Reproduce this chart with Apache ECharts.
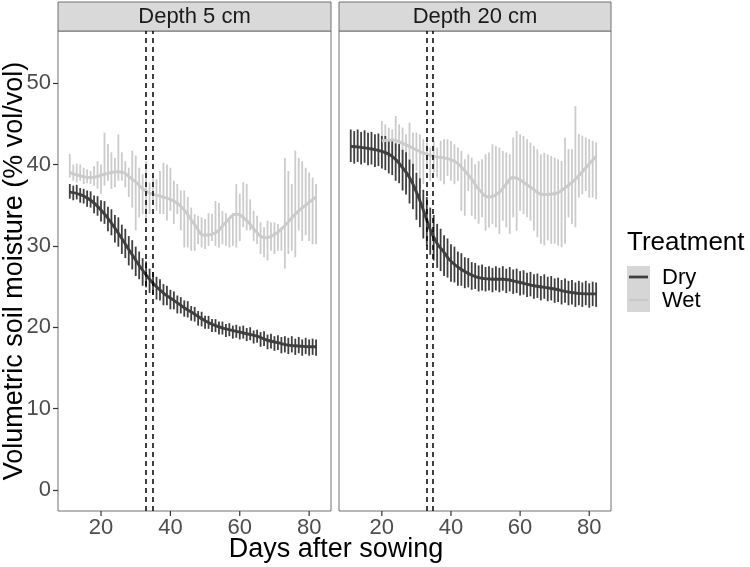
<!DOCTYPE html>
<html>
<head>
<meta charset="utf-8">
<script src="https://cdn.jsdelivr.net/npm/echarts@6/dist/echarts.min.js"></script>
<style>
html,body{margin:0;padding:0;background:#fff;}
#chart{width:750px;height:567px;}
</style>
</head>
<body>
<div id="chart"></div>
<script>
// ---------- data ----------
const panels = ['Depth 5 cm', 'Depth 20 cm'];
const treatments = ['Dry', 'Wet'];
const xTicks = [20, 40, 60, 80];
const yTicks = [0, 10, 20, 30, 40, 50];
const sowingMarks = [33, 34.8];

const days = [11,12,13,14,15,16,17,18,19,20,21,22,23,24,25,26,27,28,29,30,31,32,33,34,35,36,37,38,39,40,41,42,43,44,45,46,47,48,49,50,51,52,53,54,55,56,57,58,59,60,61,62,63,64,65,66,67,68,69,70,71,72,73,74,75,76,77,78,79,80,81,82];
const daysWet20 = [20,21,22,23,24,25,26,27,28,29,30,31,32,33,34,35,36,37,38,39,40,41,42,43,44,45,46,47,48,49,50,51,52,53,54,55,56,57,58,59,60,61,62,63,64,65,66,67,68,69,70,71,72,73,74,75,76,77,78,79,80,81,82];

// Depth 5 cm
const dry5Mean = [36.7,36.5,36.6,36.2,36.1,35.8,35.7,35.1,34.9,34.3,34.1,33.3,32.9,32.1,31.7,30.8,30.3,29.4,28.9,28.1,27.6,26.8,26.5,25.7,25.4,24.8,24.6,24.0,23.9,23.4,23.3,22.8,22.7,22.3,22.2,21.7,21.6,21.1,21.0,20.6,20.6,20.2,20.2,19.9,19.9,19.6,19.7,19.4,19.5,19.3,19.4,19.1,19.2,18.8,18.9,18.5,18.6,18.2,18.3,18.0,18.1,17.8,17.9,17.7,17.9,17.6,17.8,17.5,17.7,17.5,17.6,17.5];
const dry5Err = [0.9,0.9,0.9,0.9,0.9,1.0,1.0,1.1,1.2,1.3,1.4,1.5,1.6,1.7,1.8,1.8,1.8,1.8,1.8,1.8,1.7,1.7,1.6,1.5,1.4,1.4,1.3,1.3,1.2,1.2,1.1,1.1,1.0,1.0,1.0,0.9,0.9,0.9,0.9,0.8,0.8,0.8,0.8,0.8,0.8,0.8,0.8,0.8,0.8,0.8,0.8,0.8,0.8,0.8,0.8,0.9,0.9,0.9,0.9,0.9,0.9,1.0,1.0,1.0,1.0,1.0,1.0,1.0,1.0,1.0,1.0,1.0];
const wet5Mean = [39.85,39.0,38.95,39.0,38.6,38.55,38.4,38.6,38.7,38.2,40.65,40.25,39.25,39.0,40.85,39.75,38.8,37.8,38.2,36.5,36.55,36.35,36.55,35.85,36.85,36.25,36.55,37.05,36.55,36.95,35.35,35.75,34.35,33.3,32.9,32.05,31.65,31.95,31.65,31.45,32.0,32.25,32.75,32.55,32.25,32.0,31.65,32.0,33.7,33.5,35.05,34.75,33.8,32.45,31.95,30.95,30.45,30.65,31.15,30.95,31.05,30.85,34.0,34.1,33.5,35.15,36.35,35.5,35.45,34.8,34.3,33.9];
const wet5Err = [1.45,1.0,1.15,1.0,1.0,0.85,0.8,1.2,1.7,1.8,3.25,2.25,2.25,1.8,2.85,1.75,1.6,1.8,3.5,4.6,3.05,2.45,3.85,1.95,1.75,1.95,2.65,3.15,3.45,2.65,2.65,1.85,2.45,3.5,3.1,2.65,2.25,1.75,1.85,1.85,2.0,1.65,2.75,2.75,2.05,2.0,1.85,2.0,3.9,2.9,2.75,2.85,1.9,1.85,1.75,1.95,1.85,2.45,1.75,1.95,1.65,1.45,6.8,5.1,4.1,6.55,4.45,4.9,4.15,4.2,4.1,3.7];
const dry5Smooth = [[11,36.6],[14,36.3],[17,35.6],[20,34.4],[23,32.8],[26,30.9],[29,28.9],[32,27.0],[35,25.4],[38,24.2],[41,23.3],[44,22.4],[47,21.6],[50,20.8],[53,20.2],[56,19.8],[59,19.5],[62,19.2],[65,18.9],[68,18.4],[71,18.1],[74,17.8],[77,17.7],[80,17.6],[82,17.6]];
const wet5Smooth = [[11,39.0],[14,38.6],[17,38.4],[21,38.8],[25,39.1],[29,38.2],[33,36.7],[37,36.1],[41,35.5],[44,34.4],[47,32.6],[50,31.3],[53,31.6],[56,32.9],[59,33.9],[62,33.1],[65,31.6],[67,31.0],[70,31.4],[73,32.5],[76,33.9],[79,35.0],[82,36.0]];

// Depth 20 cm
const dry20Mean = [42.3,42.1,42.3,42.0,42.2,41.9,42.0,41.7,41.8,41.5,41.4,41.0,40.9,40.3,40.1,39.3,38.9,37.9,37.3,36.1,35.3,33.9,33.0,31.8,31.0,30.0,29.5,28.8,28.5,27.9,27.7,27.2,27.1,26.7,26.7,26.3,26.3,26.0,26.1,25.9,26.0,25.8,26.0,25.8,26.0,25.7,25.9,25.6,25.7,25.4,25.5,25.2,25.3,25.0,25.1,24.8,25.0,24.7,24.8,24.5,24.6,24.3,24.5,24.2,24.3,24.0,24.2,24.0,24.2,23.9,24.1,24.0];
const dry20Err = [2.0,2.0,2.0,2.0,2.0,2.0,2.0,2.0,2.0,2.0,2.1,2.1,2.2,2.3,2.4,2.5,2.6,2.7,2.8,2.9,3.0,3.0,3.0,2.9,2.8,2.7,2.6,2.5,2.4,2.3,2.2,2.1,2.0,1.9,1.8,1.7,1.6,1.6,1.6,1.5,1.5,1.5,1.5,1.5,1.5,1.5,1.5,1.5,1.5,1.5,1.5,1.5,1.5,1.5,1.5,1.5,1.5,1.5,1.5,1.5,1.5,1.5,1.5,1.5,1.5,1.5,1.5,1.5,1.5,1.5,1.5,1.5];
const wet20Mean = [42.48,42.99,42.69,42.28,43.8,42.89,42.28,41.67,42.18,41.57,41.57,40.44,40.34,41.15,40.03,40.95,40.24,40.44,40.34,40.85,40.44,40.03,40.03,37.99,37.17,39.01,37.27,36.66,36.57,37.07,36.56,36.87,37.58,37.28,36.77,37.38,36.87,36.36,38.4,37.99,39.01,38.7,38.3,37.89,37.07,36.46,35.75,35.74,35.95,35.64,35.54,35.33,35.13,36.77,37.69,37.28,39.73,39.83,39.93,40.03,39.52,39.42,39.22];
const wet20Err = [2.86,1.94,1.84,2.04,2.15,2.04,2.25,2.05,2.96,2.35,2.35,3.27,2.76,1.53,2.04,1.94,1.84,2.45,2.76,2.25,2.45,2.45,2.04,3.68,3.47,2.25,3.57,3.37,3.87,3.57,4.7,4.6,4.9,5.0,5.3,4.29,4.6,4.9,4.9,6.13,4.7,4.8,4.8,4.8,5.2,5.4,5.5,5.7,5.3,5.4,5.3,5.3,5.3,6.5,4.2,4.6,7.45,3.9,3.6,3.3,3.6,3.5,3.5];
const dry20Smooth = [[11,42.2],[14,42.1],[17,41.9],[20,41.6],[23,41.0],[26,39.6],[28,38.4],[30,36.6],[32,34.4],[34,32.0],[36,30.3],[38,29.2],[40,28.1],[43,27.1],[46,26.4],[49,26.0],[52,25.9],[55,25.9],[58,25.7],[61,25.4],[64,25.1],[67,24.9],[70,24.7],[73,24.4],[76,24.2],[79,24.1],[82,24.1]];
const wet20Smooth = [[20,42.9],[23,43.0],[26,42.6],[29,42.0],[32,41.4],[35,41.0],[38,40.8],[41,40.4],[43,39.7],[46,38.2],[48,37.0],[51,36.0],[54,36.6],[56,37.6],[58,38.4],[60,38.1],[63,37.2],[67,36.3],[70,36.4],[72,36.8],[76,38.2],[79,39.6],[82,41.0]];

// ---------- styling ----------
const DRY = '#3f3f3f', WET = '#cbcbcb';
const FONT = '"Liberation Sans", Arial, sans-serif';
const P = [{left:58, width:273}, {left:339, width:272}];
const TOP = 31, H = 480;
const YMIN = -2.58, YMAX = 56.4;

function errData(d, m, e){ return d.map((x,i)=>[x, m[i]-e[i], m[i]+e[i]]); }
function errSeries(idx, data, color){
  return {
    type:'custom', xAxisIndex:idx, yAxisIndex:idx, clip:true, silent:true,
    data: data,
    renderItem: function(params, api){
      const a = api.coord([api.value(0), api.value(1)]);
      const b = api.coord([api.value(0), api.value(2)]);
      return {type:'line', shape:{x1:a[0], y1:a[1], x2:b[0], y2:b[1]},
              style:{stroke:color, lineWidth:1.8}};
    }
  };
}
// x-axis tick marks, positioned through the axis scale
function tickSeries(idx){
  return {
    type:'custom', xAxisIndex:idx, yAxisIndex:idx, clip:false, silent:true, z:20,
    data: xTicks.map(v=>[v, YMIN]),
    renderItem: function(params, api){
      const a = api.coord([api.value(0), api.value(1)]);
      return {type:'line', shape:{x1:a[0], y1:a[1], x2:a[0], y2:a[1]+5},
              style:{stroke:'#333', lineWidth:1.2}};
    }
  };
}
function smoothSeries(idx, data, color, extra){
  return Object.assign({
    type:'line', xAxisIndex:idx, yAxisIndex:idx, data:data, smooth:0.5,
    showSymbol:false, symbol:'none', silent:true,
    lineStyle:{color:color, width:2.9}, itemStyle:{color:color}
  }, extra||{});
}
function vlines(){
  return {silent:true, symbol:['none','none'], label:{show:false},
    lineStyle:{color:'#000', type:[5,4], width:1.5},
    data: sowingMarks.map(v=>({xAxis:v}))};
}

const chart = echarts.init(document.getElementById('chart'), null, {renderer:'canvas'});
const option = {
  animation:false,
  backgroundColor:'#fff',
  grid: P.map(p=>({left:p.left, top:TOP, width:p.width, height:H, show:true,
        borderColor:'#707070', borderWidth:1, backgroundColor:'#fff'})),
  xAxis: [0,1].map(i=>({gridIndex:i, type:'value', min:7.6, max:86.3, position:'bottom',
        axisLine:{show:false, onZero:false}, splitLine:{show:false},
        axisTick:{show:false},
        axisLabel:{customValues:xTicks, color:'#4d4d4d', fontSize:22, margin:6, fontFamily:FONT}})),
  yAxis: [0,1].map(i=>({gridIndex:i, type:'value', min:YMIN, max:YMAX, position:'left',
        axisLine:{show:false, onZero:false}, splitLine:{show:false},
        axisTick:{show:i===0, inside:false, customValues:yTicks, length:5, lineStyle:{color:'#333', width:1.2}},
        axisLabel:{show:i===0, customValues:yTicks, color:'#4d4d4d', fontSize:22, margin:7, fontFamily:FONT}})),
  series: [
    errSeries(0, errData(days, wet5Mean, wet5Err), WET),
    errSeries(0, errData(days, dry5Mean, dry5Err), DRY),
    smoothSeries(0, wet5Smooth, WET),
    smoothSeries(0, dry5Smooth, DRY, {markLine:vlines()}),
    tickSeries(0),
    errSeries(1, errData(daysWet20, wet20Mean, wet20Err), WET),
    errSeries(1, errData(days, dry20Mean, dry20Err), DRY),
    smoothSeries(1, wet20Smooth, WET),
    smoothSeries(1, dry20Smooth, DRY, {markLine:vlines()}),
    tickSeries(1)
  ],
  graphic: [
    ...P.map((p,i)=>({type:'rect', shape:{x:p.left, y:2, width:p.width, height:TOP-2},
        style:{fill:'#d9d9d9', stroke:'#707070', lineWidth:1}})),
    ...P.map((p,i)=>({type:'text', x:p.left+p.width/2, y:17,
        style:{text:panels[i], fill:'#1a1a1a', font:'22px '+FONT, align:'center', verticalAlign:'middle'}})),
    {type:'text', x:336, y:550, style:{text:'Days after sowing', fill:'#000', font:'27px '+FONT, align:'center', verticalAlign:'middle'}},
    {type:'text', x:15, y:271, rotation:Math.PI/2, style:{text:'Volumetric soil moisture (% vol/vol)', fill:'#000', font:'27px '+FONT, align:'center', verticalAlign:'middle'}},
    {type:'text', x:627, y:243, style:{text:'Treatment', fill:'#000', font:'26px '+FONT, align:'left', verticalAlign:'middle'}},
    {type:'rect', shape:{x:627, y:266, width:23, height:46}, style:{fill:'#d6d6d6'}},
    {type:'line', shape:{x1:629, y1:277, x2:648, y2:277}, style:{stroke:DRY, lineWidth:2.8}},
    {type:'line', shape:{x1:629, y1:300, x2:648, y2:300}, style:{stroke:WET, lineWidth:2.8}},
    {type:'text', x:662, y:278, style:{text:treatments[0], fill:'#000', font:'22px '+FONT, align:'left', verticalAlign:'middle'}},
    {type:'text', x:662, y:301, style:{text:treatments[1], fill:'#000', font:'22px '+FONT, align:'left', verticalAlign:'middle'}}
  ]
};
chart.setOption(option);
</script>
</body>
</html>
